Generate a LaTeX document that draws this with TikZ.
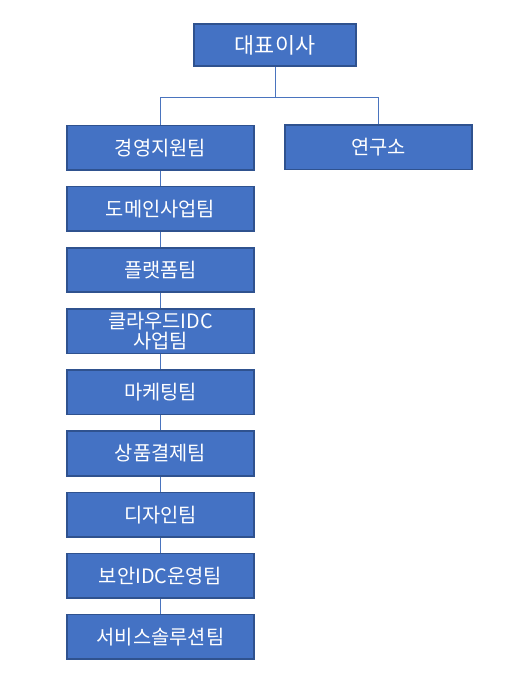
\documentclass[tikz,border=0pt]{standalone}
\usepackage{fontspec}
\setmainfont{Noto Sans CJK KR}
\definecolor{boxfill}{HTML}{4472C4}
\definecolor{boxline}{HTML}{2F528F}
\definecolor{conn}{HTML}{4A74BE}
\begin{document}
\begin{tikzpicture}[x=1pt,y=-1pt,
  orgbox/.style={draw=boxline, line width=1.6pt, fill=boxfill, text=white,
    minimum width=187pt, minimum height=44.5pt, inner sep=0pt, align=center,
    font=\fontsize{19.8pt}{22pt}\selectfont},
  topbox/.style={orgbox, minimum width=162pt, minimum height=42.5pt,
    font=\fontsize{21.8pt}{24pt}\selectfont},
  link/.style={draw=conn, line width=1pt}]
\useasboundingbox (0,0) rectangle (514,690);
\node[topbox] (ceo) at (275,45) {대표이사};
\node[orgbox] (lab) at (378.5,147.2) {연구소};
\node[orgbox] (s1) at (160.5,147.7) {경영지원팀};
\node[orgbox] (s2) at (160.5,208.9) {도메인사업팀};
\node[orgbox] (s3) at (160.5,270.0) {플랫폼팀};
\node[orgbox] (s4) at (160.5,331.2) {클라우드IDC\\[-2pt]사업팀};
\node[orgbox] (s5) at (160.5,392.3) {마케팅팀};
\node[orgbox] (s6) at (160.5,453.5) {상품결제팀};
\node[orgbox] (s7) at (160.5,514.6) {디자인팀};
\node[orgbox] (s8) at (160.5,575.8) {보안IDC운영팀};
\node[orgbox] (s9) at (160.5,636.9) {서비스솔루션팀};
\coordinate (bus) at (275,97.5);
\draw[link] (ceo.south) -- (bus);
\draw[link] (bus) -| (s1.north);
\draw[link] (bus) -| (lab.north);
\foreach \a/\b in {s1/s2,s2/s3,s3/s4,s4/s5,s5/s6,s6/s7,s7/s8,s8/s9}
  \draw[link] (\a.south) -- (\b.north);
\end{tikzpicture}
\end{document}
